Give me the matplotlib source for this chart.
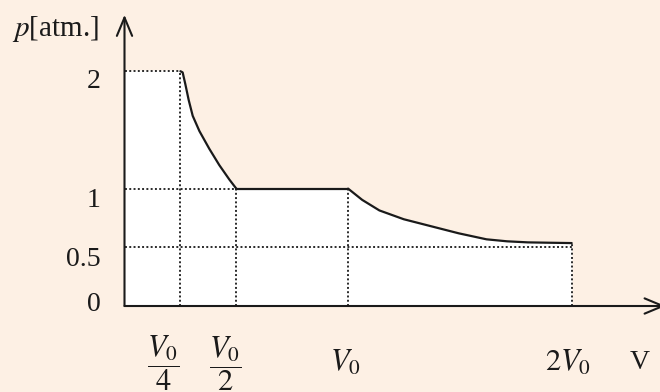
import matplotlib
matplotlib.use("Agg")
import matplotlib.pyplot as plt
from matplotlib.transforms import ScaledTranslation

plt.rcParams['font.family'] = ['Liberation Serif', 'DejaVu Serif']
plt.rcParams['mathtext.fontset'] = 'stix'

# p-V diagram data (V in units of V0, p in atm)
iso1_v = [0.25, 0.26, 0.272, 0.287, 0.305, 0.335, 0.379, 0.424, 0.469, 0.5]
iso1_p = [2.0, 1.99, 1.89, 1.755, 1.62, 1.49, 1.34, 1.20, 1.077, 1.0]
flat_v = [0.5, 1.0]
flat_p = [1.0, 1.0]
iso2_v = [1.0, 1.063, 1.14, 1.249, 1.372, 1.495, 1.619, 1.711, 1.804, 1.897, 2.0]
iso2_p = [1.0, 0.904, 0.814, 0.739, 0.679, 0.619, 0.568, 0.551, 0.542, 0.539, 0.536]

x_ticks = [0.25, 0.5, 1.0, 2.0]
x_labels = [r'$\dfrac{V_0}{4}$', r'$\dfrac{V_0}{2}$', r'$V_0$', r'$2V_0$']
y_ticks = [2, 1, 0.5, 0]
y_labels = ['2', '1', '0.5', '0']

bg = '#fdf0e4'
ink = '#1a1a1a'
dot = dict(color='#2a2a2a', lw=1.4, ls=(0, (1, 1.2)))

fig = plt.figure(figsize=(6.6, 3.92), dpi=100, facecolor=bg)
ax = fig.add_axes([0, 0, 1, 1])
ax.set_facecolor(bg)
ax.set_xlim(-0.5568, 2.3949)
ax.set_ylim(-0.7325, 2.6065)
ax.axis('off')

# white area under the path
poly_v = [0, 0] + iso1_v + iso2_v + [iso2_v[-1]]
poly_p = [0, iso1_p[0]] + iso1_p + iso2_p + [0]
ax.fill(poly_v, poly_p, color='white', zorder=1)

# dotted guides
ax.plot([0, iso1_v[0]], [2, 2], **dot, zorder=2)
ax.plot([0, 0.5], [1, 1], **dot, zorder=2)
ax.plot([0, 2], [0.5, 0.5], **dot, zorder=2)
ax.plot([0.25, 0.25], [0, 2], **dot, zorder=2)
ax.plot([0.5, 0.5], [0, 1], **dot, zorder=2)
ax.plot([1, 1], [0, 1], **dot, zorder=2)
ax.plot([2, 2], [0, iso2_p[-1]], **dot, zorder=2)

# process curve
line_kw = dict(color=ink, lw=1.6, zorder=3, solid_joinstyle='round', solid_capstyle='round')
ax.plot(iso1_v, iso1_p, **line_kw)
ax.plot(flat_v, flat_p, **line_kw)
ax.plot(iso2_v, iso2_p, **line_kw)

# axes with open arrows
arr = dict(arrowstyle='->, head_length=0.6, head_width=0.25', color=ink, lw=1.5,
           mutation_scale=22, shrinkA=0, shrinkB=0)
ax.annotate('', xy=(0, 2.48), xytext=(0, 0), arrowprops=arr, zorder=4, annotation_clip=False)
ax.annotate('', xy=(2.42, 0), xytext=(0, 0), arrowprops=arr, zorder=4, annotation_clip=False)

# labels
ax.text(-0.31, 2.36, r'$p$[atm.]', fontsize=21, ha='center', va='center', color=ink)
y_off = [-10, -12, -12, 2]
for p, lab, dy in zip(y_ticks, y_labels, y_off):
    ax.annotate(lab, xy=(0, p), xytext=(-24, dy), textcoords='offset pixels',
                ha='right', va='center', fontsize=20, color=ink)
x_off = [(-17, -57), (-11, -58), (-3, -57), (-4, -57)]
for v, lab, (dx, dy) in zip(x_ticks, x_labels, x_off):
    ax.annotate(lab, xy=(v, 0), xytext=(dx, dy), textcoords='offset pixels',
                ha='center', va='center', fontsize=22, color=ink)
ax.text(2.305, 0, 'V', fontsize=20, ha='center', va='center', color=ink,
        transform=ax.transData + ScaledTranslation(0, -56 / 100, fig.dpi_scale_trans))

fig.savefig('out.png', dpi=100, facecolor=bg)
